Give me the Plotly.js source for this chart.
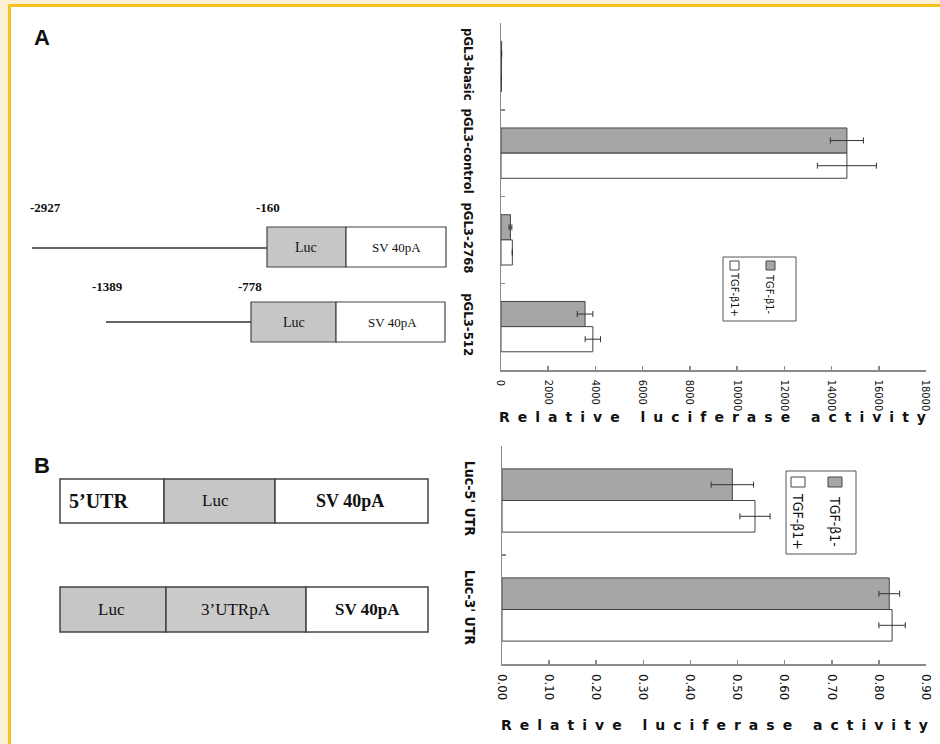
<!DOCTYPE html>
<html>
<head>
<meta charset="utf-8">
<script src="https://cdn.plot.ly/plotly-3.0.1.min.js"></script>
<style>
html,body{margin:0;padding:0;background:#fff;overflow:hidden;}
#chart{width:940px;height:744px;}
</style>
</head>
<body>
<div id="chart"></div>
<script>
// ---------- DATA ----------
const catsA = ['pGL3-basic', 'pGL3-control', 'pGL3-2768', 'pGL3-512'];
const tgfMinusA = [25, 14650, 400, 3560];
const tgfMinusErrA = [0, 700, 60, 330];
const tgfPlusA = [20, 14650, 480, 3890];
const tgfPlusErrA = [0, 1250, 0, 325];

const catsB = ["Luc-5' UTR", "Luc-3' UTR"];
const tgfMinusB = [0.489, 0.822];
const tgfMinusErrB = [0.045, 0.022];
const tgfPlusB = [0.537, 0.828];
const tgfPlusErrB = [0.032, 0.028];

const seriesNames = ['TGF-β1-', 'TGF-β1+'];
const axisTitle = 'Relative luciferase activity';

// ---------- STYLE ----------
const W = 940, H = 744;
const X = x => x / W;
const Y = y => 1 - y / H;
const GRAY = '#a6a6a6', EDGE = '#444', AXIS = '#8a8a8a';
const condensed = 'DejaVu Sans Condensed, DejaVu Sans, sans-serif';
const serif = 'Liberation Serif, Times New Roman, serif';

function barTrace(name, cats, vals, errs, color, xa, ya) {
  return {
    type: 'bar', orientation: 'h', name: name,
    y: cats, x: vals, xaxis: xa, yaxis: ya,
    marker: {color: color, line: {color: EDGE, width: 1}},
    error_x: {type: 'data', array: errs, color: '#333', thickness: 1, width: 3},
    showlegend: false, hoverinfo: 'skip'
  };
}

const data = [
  barTrace(seriesNames[0], catsA, tgfMinusA, tgfMinusErrA, GRAY, 'x', 'y'),
  barTrace(seriesNames[1], catsA, tgfPlusA, tgfPlusErrA, '#ffffff', 'x', 'y'),
  barTrace(seriesNames[0], catsB, tgfMinusB, tgfMinusErrB, GRAY, 'x2', 'y2'),
  barTrace(seriesNames[1], catsB, tgfPlusB, tgfPlusErrB, '#ffffff', 'x2', 'y2')
];

function xAxis(domain, range, dtick, fmt, size, anchor) {
  return {
    domain: domain, range: range, dtick: dtick, tick0: 0, tickformat: fmt,
    anchor: anchor, ticks: 'inside', ticklen: 4, tickwidth: 1.5, tickcolor: AXIS,
    showline: true, linecolor: AXIS, linewidth: 1.5, showgrid: false, zeroline: false,
    tickangle: 90, ticklabelstandoff: 6,
    tickfont: {family: condensed, size: size, color: '#111'}, fixedrange: true
  };
}
function yAxis(domain, cats, size, anchor, standoff) {
  return {
    domain: domain, type: 'category', categoryorder: 'array', categoryarray: cats,
    autorange: 'reversed', anchor: anchor,
    ticks: 'inside', tickson: 'boundaries', ticklen: 4, tickwidth: 1.5, tickcolor: AXIS,
    showline: true, linecolor: AXIS, linewidth: 1.5, showgrid: false, zeroline: false,
    tickangle: 90, ticklabelstandoff: standoff,
    tickfont: {family: condensed, size: size, color: '#111', weight: 'bold'}, fixedrange: true
  };
}

const shapes = [];
const annotations = [];
function rect(x0, y0, x1, y1, fill, lw, lc) {
  shapes.push({type: 'rect', xref: 'paper', yref: 'paper', x0: X(x0), x1: X(x1), y0: Y(y1), y1: Y(y0),
    fillcolor: fill, line: {width: lw === undefined ? 1.2 : lw, color: lc || EDGE}, layer: 'above'});
}
function line(x0, y0, x1, y1) {
  shapes.push({type: 'line', xref: 'paper', yref: 'paper', x0: X(x0), x1: X(x1), y0: Y(y0), y1: Y(y1),
    line: {width: 1.3, color: '#333'}});
}
function text(t, x, y, size, opts) {
  opts = opts || {};
  annotations.push({text: t, xref: 'paper', yref: 'paper', x: X(x), y: Y(y), showarrow: false,
    xanchor: 'center', yanchor: 'middle', textangle: opts.angle || 0,
    font: {family: opts.family || serif, size: size, color: opts.color || '#111', weight: opts.weight || 'normal'}});
}

// Border
shapes.push({type: 'rect', xref: 'paper', yref: 'paper', x0: 0, x1: X(8), y0: 0, y1: 1, fillcolor: '#fdf0d4', line: {width: 0}, layer: 'below'});
shapes.push({type: 'rect', xref: 'paper', yref: 'paper', x0: 0, x1: 1, y0: Y(4), y1: 1, fillcolor: '#fdf0d4', line: {width: 0}, layer: 'below'});
shapes.push({type: 'rect', xref: 'paper', yref: 'paper', x0: X(8), x1: X(11), y0: 0, y1: Y(4), fillcolor: '#f7c21e', line: {width: 0}, layer: 'below'});
shapes.push({type: 'rect', xref: 'paper', yref: 'paper', x0: X(8), x1: 1, y0: Y(7), y1: Y(4), fillcolor: '#f7c21e', line: {width: 0}, layer: 'below'});

// Panel letters
text('A', 42, 38, 22, {family: 'Liberation Sans, Arial, sans-serif', weight: 'bold'});
text('B', 42, 465, 22, {family: 'Liberation Sans, Arial, sans-serif', weight: 'bold'});

// Diagram A
const LUC = '#c6c6c6';
line(32, 248, 267, 248);
rect(267, 227, 346, 267, LUC);
rect(346, 227, 446, 267, '#ffffff');
line(106, 322, 251, 322);
rect(251, 302, 336, 342, LUC);
rect(336, 302, 445, 342, '#ffffff');
text('-2927', 45, 208, 13, {weight: 'bold'});
text('-160', 268, 208, 13, {weight: 'bold'});
text('-1389', 107, 286, 13, {weight: 'bold'});
text('-778', 250, 286, 13, {weight: 'bold'});
text('Luc', 306, 248, 14);
text('SV 40pA', 396, 248, 13);
text('Luc', 294, 322, 14);
text('SV 40pA', 392, 322, 13);

// Diagram B
rect(60, 479, 164, 523, '#ffffff', 1.5);
rect(164, 479, 275, 523, LUC, 1.5);
rect(275, 479, 428, 523, '#ffffff', 1.5);
rect(60, 587, 166, 632, LUC, 1.5);
rect(166, 587, 306, 632, '#cbcbcb', 1.5);
rect(306, 587, 428, 632, '#ffffff', 1.5);
text('5’UTR', 98, 501, 20, {weight: 'bold'});
text('Luc', 215, 501, 17);
text('SV 40pA', 350, 501, 18, {weight: 'bold'});
text('Luc', 111, 609, 17);
text('3’UTRpA', 236, 609, 17);
text('SV 40pA', 367, 609, 17, {weight: 'bold'});

// Legend A (rotated)
rect(723, 257, 796, 321, '#ffffff', 1, '#555');
rect(766, 261, 775, 270, GRAY, 1);
rect(730, 261, 739, 270, '#ffffff', 1);
text(seriesNames[0], 770, 294, 11, {family: condensed, angle: 90});
text(seriesNames[1], 735, 294, 11, {family: condensed, angle: 90});

// Legend B (rotated)
rect(786, 471, 856, 554, '#ffffff', 1, '#555');
rect(828, 477, 842, 487, GRAY, 1);
rect(791, 477, 805, 487, '#ffffff', 1);
text(seriesNames[0], 835, 521, 14, {family: condensed, angle: 90});
text(seriesNames[1], 798, 521, 14, {family: condensed, angle: 90});

// Axis titles
text(axisTitle, 716, 417, 14, {family: 'DejaVu Sans, sans-serif', weight: 'bold'});
text(axisTitle, 718, 725, 14, {family: 'DejaVu Sans, sans-serif', weight: 'bold'});

const layout = {
  width: W, height: H, margin: {l: 0, r: 0, t: 0, b: 0},
  paper_bgcolor: '#ffffff', plot_bgcolor: 'rgba(0,0,0,0)',
  barmode: 'group', bargap: 0.42, bargroupgap: 0,
  showlegend: false,
  xaxis: xAxis([X(501), X(926)], [0, 18000], 2000, 'd', 11, 'y'),
  yaxis: yAxis([Y(370), Y(23)], catsA, 13, 'x', 20),
  xaxis2: xAxis([X(502), X(926)], [0, 0.9], 0.1, '.2f', 13, 'y2'),
  yaxis2: yAxis([Y(664), Y(446)], catsB, 14, 'x2', 19),
  shapes: shapes, annotations: annotations
};

Plotly.newPlot('chart', data, layout, {displayModeBar: false, staticPlot: true}).then(function () {
  document.querySelectorAll('.annotation-text').forEach(function (t) {
    if (t.textContent === axisTitle) t.style.letterSpacing = '8px';
  });
});
</script>
</body>
</html>
